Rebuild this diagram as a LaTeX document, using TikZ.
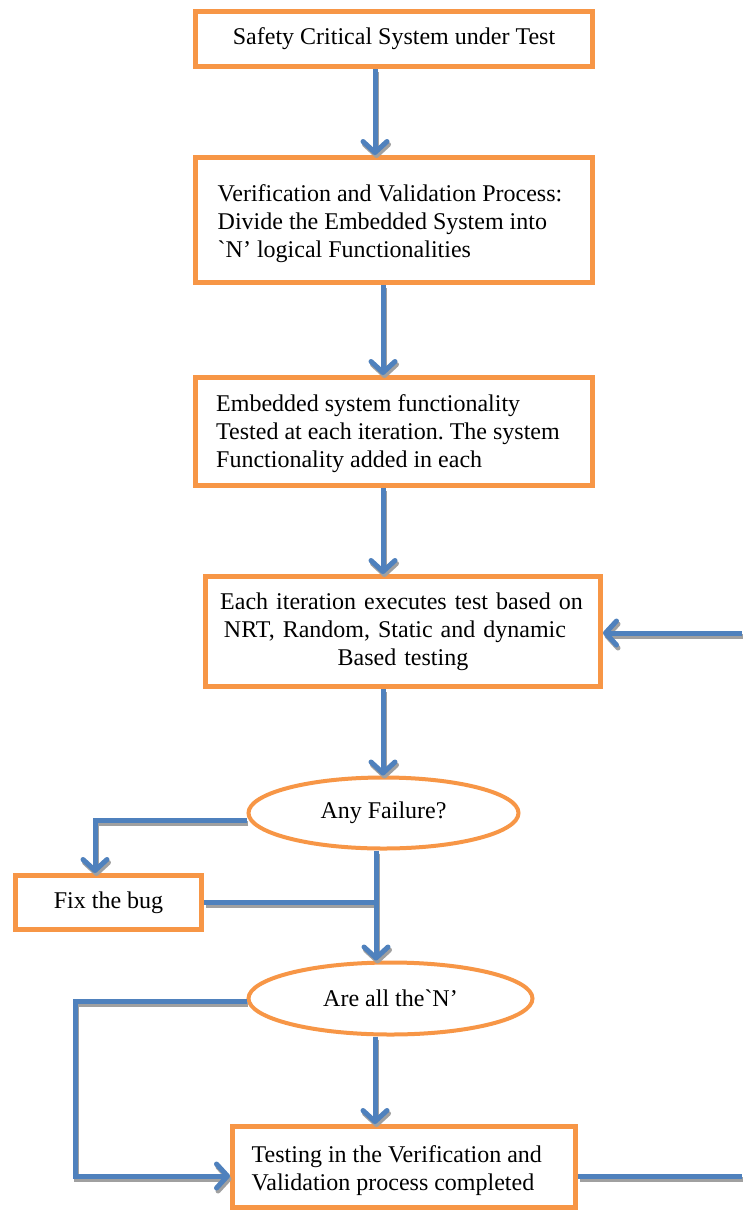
\documentclass[tikz,border=0pt]{standalone}
\usepackage{fontspec}
\setmainfont{Liberation Serif}
\usetikzlibrary{arrows.meta,shapes.geometric}
\definecolor{boxorange}{HTML}{F79646}
\definecolor{arrblue}{HTML}{4F81BD}
\definecolor{shadowgray}{HTML}{A0A0A0}
\begin{document}
\begin{tikzpicture}[x=1pt,y=-1pt,
  box/.style={draw=boxorange, line width=5pt, fill=white, inner sep=0pt, font=\fontsize{24}{28}\selectfont},
  oval/.style={ellipse, draw=boxorange, line width=4pt, fill=white, inner sep=0pt, font=\fontsize{24}{28}\selectfont},
  txt/.style={anchor=west, inner sep=0pt, align=left, font=\fontsize{24}{28}\selectfont\frenchspacing},
  conn/.style={draw=arrblue, line width=5pt,
    preaction={draw=shadowgray, line width=5pt, transform canvas={shift={(1.5pt,-3pt)}}}},
  arr/.style={conn, -{Straight Barb[length=11pt,width=24pt,round]}}]
\useasboundingbox (0,0) rectangle (742,1213);
\fill[white] (0,0) rectangle (742,1213);

\node[box, minimum width=397pt, minimum height=55pt] (b1) at (394,39) {Safety Critical System under Test};
\node[box, minimum width=397pt, minimum height=125pt] (b2) at (394,220) {};
\node[txt, xshift=24.5pt, yshift=-4pt] (t2) at (b2.west)
  {Verification and Validation Process:\\Divide the Embedded System into\\\textasciigrave N’ logical Functionalities};
\node[box, minimum width=397pt, minimum height=108pt] (b3) at (394,431.5) {};
\node[txt, xshift=23pt, yshift=-2.5pt] (t3) at (b3.west)
  {Embedded system functionality\\Tested at each iteration. The system\\Functionality added in each};
\node[box, minimum width=395pt, minimum height=110pt, text width=380pt, align=center] (b4) at (403,631.5)
  {Each iteration executes test based on\rule{3pt}{0pt}\\NRT, Random, Static and dynamic\rule{16pt}{0pt}\\Based testing};
\node[oval, minimum width=270pt, minimum height=71pt] (e1) at (383.5,813) {Any Failure?};
\node[box, minimum width=186pt, minimum height=54pt] (fix) at (108.5,902.5) {Fix the bug};
\node[oval, minimum width=284pt, minimum height=72pt] (e2) at (390.5,998.5) {Are all the\textasciigrave N’};
\node[box, minimum width=343pt, minimum height=81pt] (last) at (404,1167) {};
\node[txt, xshift=21.5pt, yshift=-4pt] (t8) at (last.west)
  {Testing in the Verification and\\Validation process completed};

\coordinate (x1) at (375,0);
\coordinate (x2) at (383,0);
\coordinate (x3) at (376,0);
\coordinate (x4) at (375,0);
\coordinate (r1) at (742,633);
\coordinate (c1) at (95,820);
\coordinate (c2) at (75,1001);
\coordinate (c3) at (75,1176);
\coordinate (r2) at (742,1176);

\draw[arr] (b1.south -| x1) -- (b2.north -| x1);
\draw[arr] (b2.south -| x2) -- (b3.north -| x2);
\draw[arr] (b3.south -| x2) -- (b4.north -| x2);
\draw[arr] (b4.south -| x2) -- (e1.north -| x2);
\draw[arr] (r1) -- (r1 -| b4.east);
\draw[arr] (e1.west |- c1) -- (c1) -- (c1 |- fix.north);
\draw[conn] (fix.east) -- (fix.east -| x3);
\draw[arr] (e1.south -| x3) -- (e2.north -| x3);
\draw[arr] (e2.west |- c2) -- (c2) -- (c3) -- (c3 -| last.west);
\draw[arr] (e2.south -| x4) -- (last.north -| x4);
\draw[conn] (last.east |- r2) -- (r2);
\end{tikzpicture}
\end{document}
